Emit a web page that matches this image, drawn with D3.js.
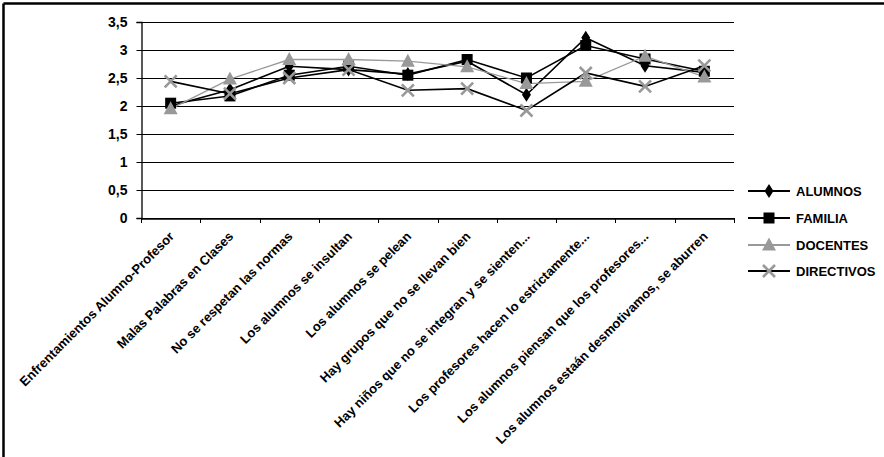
<!DOCTYPE html>
<html><head><meta charset="utf-8">
<script src="https://cdn.jsdelivr.net/npm/d3@7"></script>
<style>body{margin:0;background:#fff}svg{display:block}</style>
</head><body>
<script>
const categories = [
  "Enfrentamientos Alumno-Profesor",
  "Malas Palabras en Clases",
  "No se respetan las normas",
  "Los alumnos se insultan",
  "Los alumnos se pelean",
  "Hay grupos que no se llevan bien",
  "Hay niños que no se integran y se sienten...",
  "Los profesores hacen lo estrictamente...",
  "Los alumnos piensan que los profesores...",
  "Los alumnos estaán desmotivamos, se aburren"
];
const alumnos    = [2.00, 2.29, 2.71, 2.65, 2.57, 2.80, 2.20, 3.22, 2.72, 2.60];
const familia    = [2.05, 2.18, 2.55, 2.71, 2.55, 2.83, 2.50, 3.08, 2.84, 2.62];
const docentes   = [1.95, 2.48, 2.83, 2.83, 2.80, 2.70, 2.40, 2.44, 2.89, 2.52];
const directivos = [2.44, 2.22, 2.50, 2.65, 2.28, 2.31, 1.92, 2.59, 2.35, 2.72];
const seriesNames = ["ALUMNOS", "FAMILIA", "DOCENTES", "DIRECTIVOS"];
const yTicks = [0, 0.5, 1, 1.5, 2, 2.5, 3, 3.5];

(function () {
const W = 884, H = 457;
const svg = d3.select("body").append("svg").attr("width", W).attr("height", H);
const FONT = "'Liberation Sans', Arial, sans-serif";

// frame (top and left edges visible)
svg.append("line").attr("x1", 3.5).attr("x2", W).attr("y1", 3.5).attr("y2", 3.5).attr("stroke", "#000").attr("stroke-width", 2.5);
svg.append("line").attr("x1", 3.5).attr("x2", 3.5).attr("y1", 3.5).attr("y2", H).attr("stroke", "#000").attr("stroke-width", 2.5);

const pL = 141, pR = 734, pT = 22, pB = 218;
const x = d3.scaleBand().domain(categories).range([pL, pR]);
const y = d3.scaleLinear().domain([0, 3.5]).range([pB, pT]);

// gridlines
svg.append("g").selectAll("line").data(yTicks).join("line")
  .attr("x1", pL).attr("x2", pR)
  .attr("y1", d => Math.round(y(d)) + 0.5).attr("y2", d => Math.round(y(d)) + 0.5)
  .attr("stroke", "#000").attr("stroke-width", 1);

// y axis
const yAxis = svg.append("g").attr("transform", `translate(${pL + 0.5},0)`)
  .call(d3.axisLeft(y).tickValues(yTicks).tickSize(5).tickPadding(9)
    .tickFormat(d => String(d).replace(".", ",")));
yAxis.select(".domain").attr("stroke", "#000").attr("stroke-width", 1.3);
yAxis.selectAll("text").attr("font-family", FONT).attr("font-weight", "bold").attr("font-size", "14px").attr("fill", "#000");

// x axis
const xAxis = svg.append("g").attr("transform", `translate(0,${pB + 0.5})`)
  .call(d3.axisBottom(x).tickSize(0).tickFormat(""));
xAxis.select(".domain").attr("stroke", "#000").attr("stroke-width", 1.3);
const bounds = categories.map(c => x(c)).concat([pR]);
svg.append("g").selectAll("line").data(bounds).join("line")
  .attr("x1", d => Math.round(d) + 0.5).attr("x2", d => Math.round(d) + 0.5)
  .attr("y1", pB).attr("y2", pB + 5).attr("stroke", "#000");

// x labels
svg.append("g").selectAll("text").data(categories).join("text")
  .attr("transform", d => `translate(${x(d) + x.bandwidth() / 2 + 1},${pB + 16}) rotate(-45)`)
  .attr("text-anchor", "end").attr("dy", "0.35em")
  .attr("font-family", FONT).attr("font-weight", "bold").attr("font-size", "13px").attr("fill", "#000")
  .text(d => d);

const cx = c => x(c) + x.bandwidth() / 2;
const styles = [
  {name: "ALUMNOS", data: alumnos, line: "#000", lw: 1.6, marker: "diamond", fill: "#000"},
  {name: "FAMILIA", data: familia, line: "#000", lw: 1.6, marker: "square", fill: "#000"},
  {name: "DOCENTES", data: docentes, line: "#999", lw: 1.3, marker: "triangle", fill: "#999"},
  {name: "DIRECTIVOS", data: directivos, line: "#000", lw: 1.6, marker: "x", fill: "#999"}
];

function drawMarker(g, type, color) {
  if (type === "diamond") g.append("path").attr("d", "M0,-7L4.5,0L0,7L-4.5,0Z").attr("fill", color);
  else if (type === "square") g.append("rect").attr("x", -5.5).attr("y", -5.5).attr("width", 11).attr("height", 11).attr("fill", color);
  else if (type === "triangle") g.append("path").attr("d", "M0,-7.5L7,5.5L-7,5.5Z").attr("fill", color);
  else if (type === "x") g.append("path").attr("d", "M-6,-6L6,6M-6,6L6,-6").attr("stroke", color).attr("stroke-width", 2.6).attr("fill", "none");
}

const lineGen = d3.line().x((d, i) => cx(categories[i])).y(d => y(d));
styles.forEach(s => {
  svg.append("path").datum(s.data).attr("d", lineGen).attr("fill", "none")
    .attr("stroke", s.line).attr("stroke-width", s.lw);
});
styles.forEach(s => {
  s.data.forEach((v, i) => {
    const g = svg.append("g").attr("transform", `translate(${cx(categories[i])},${y(v)})`);
    drawMarker(g, s.marker, s.fill);
  });
});

// legend
const legY = [191, 218, 245, 271];
styles.forEach((s, i) => {
  const g = svg.append("g").attr("transform", `translate(0,${legY[i]})`);
  g.append("line").attr("x1", 748).attr("x2", 790).attr("y1", 0).attr("y2", 0)
    .attr("stroke", s.line).attr("stroke-width", 2);
  const m = g.append("g").attr("transform", "translate(769,0)");
  drawMarker(m, s.marker, s.fill);
  g.append("text").attr("x", 796).attr("y", 0).attr("dy", "0.35em")
    .attr("font-family", FONT).attr("font-weight", "bold").attr("font-size", "13px").attr("fill", "#000")
    .text(seriesNames[i]);
});
})();
</script>
</body></html>
